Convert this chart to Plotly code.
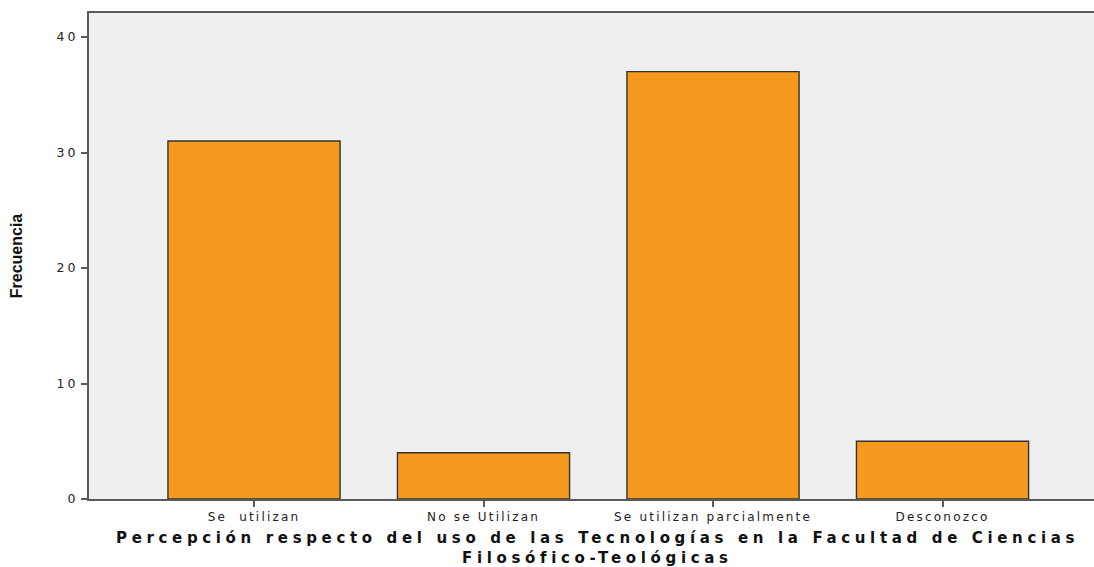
import plotly.graph_objects as go

categories = ["Se \u00a0utilizan", "No se Utilizan", "Se utilizan parcialmente", "Desconozco"]
frecuencia = [31, 4, 37, 5]
y_ticks = [0, 10, 20, 30, 40]
x_title_1 = "Percepción respecto del uso de las Tecnologías en la Facultad de Ciencias"
x_title_2 = "Filosófico-Teológicas"
y_title = "Frecuencia"

TOP, BOTTOM, LEFT, RIGHT = 13, 499, 89, 1094


def spaced(t, px):
    return f'<span style="letter-spacing:{px}px">{t}</span>'


fig = go.Figure()
fig.add_trace(go.Bar(
    x=categories, y=frecuencia, width=0.75,
    marker=dict(color="#F7991F", line=dict(color="#333333", width=1.4)),
))

fig.update_layout(
    width=1094, height=567,
    margin=dict(l=LEFT, r=1094 - RIGHT, t=TOP, b=567 - BOTTOM),
    paper_bgcolor="white", plot_bgcolor="#EFEFEF",
    showlegend=False,
    font=dict(family="DejaVu Sans, sans-serif", size=13, color="#222"),
    xaxis=dict(
        type="category", range=[-0.719, 3.66],
        tickvals=categories, ticktext=[spaced(c, 2.2) for c in categories],
        showline=True, mirror=True, linecolor="#5a5a5a", linewidth=2,
        ticks="outside", ticklen=6, tickcolor="#5a5a5a", tickwidth=2,
        showgrid=False, zeroline=False,
        tickfont=dict(size=12, color="#222"),
    ),
    yaxis=dict(
        range=[0, 42.08], tickvals=y_ticks,
        ticktext=[spaced(str(v), 3.0) for v in y_ticks],
        showline=True, linecolor="#5a5a5a", linewidth=2,
        ticks="outside", ticklen=6, tickcolor="#5a5a5a", tickwidth=2,
        showgrid=False, zeroline=False,
        tickfont=dict(size=12.5, color="#222"),
        title=dict(text=f"<b>{y_title}</b>", standoff=30,
                   font=dict(family="Liberation Sans Narrow, Arial Narrow, Liberation Sans, sans-serif",
                             size=16, color="#111")),
    ),
)

ysplit = -(547.5 - BOTTOM) / (BOTTOM - TOP)
xc = (597 - LEFT) / (RIGHT - LEFT)
fig.add_annotation(text=f"<b>{spaced(x_title_1, 4.65)}</b>", x=xc, y=ysplit,
                   xref="paper", yref="paper", showarrow=False, yanchor="bottom", borderpad=0,
                   font=dict(family="DejaVu Sans, sans-serif", size=15, color="#111"))
fig.add_annotation(text=f"<b>{spaced(x_title_2, 4.65)}</b>", x=xc, y=ysplit,
                   xref="paper", yref="paper", showarrow=False, yanchor="top", borderpad=0,
                   font=dict(family="DejaVu Sans, sans-serif", size=15, color="#111"))

fig.write_html("out.html", config={"displayModeBar": False},
               post_script="document.body.style.margin='0';document.body.style.padding='0';")
